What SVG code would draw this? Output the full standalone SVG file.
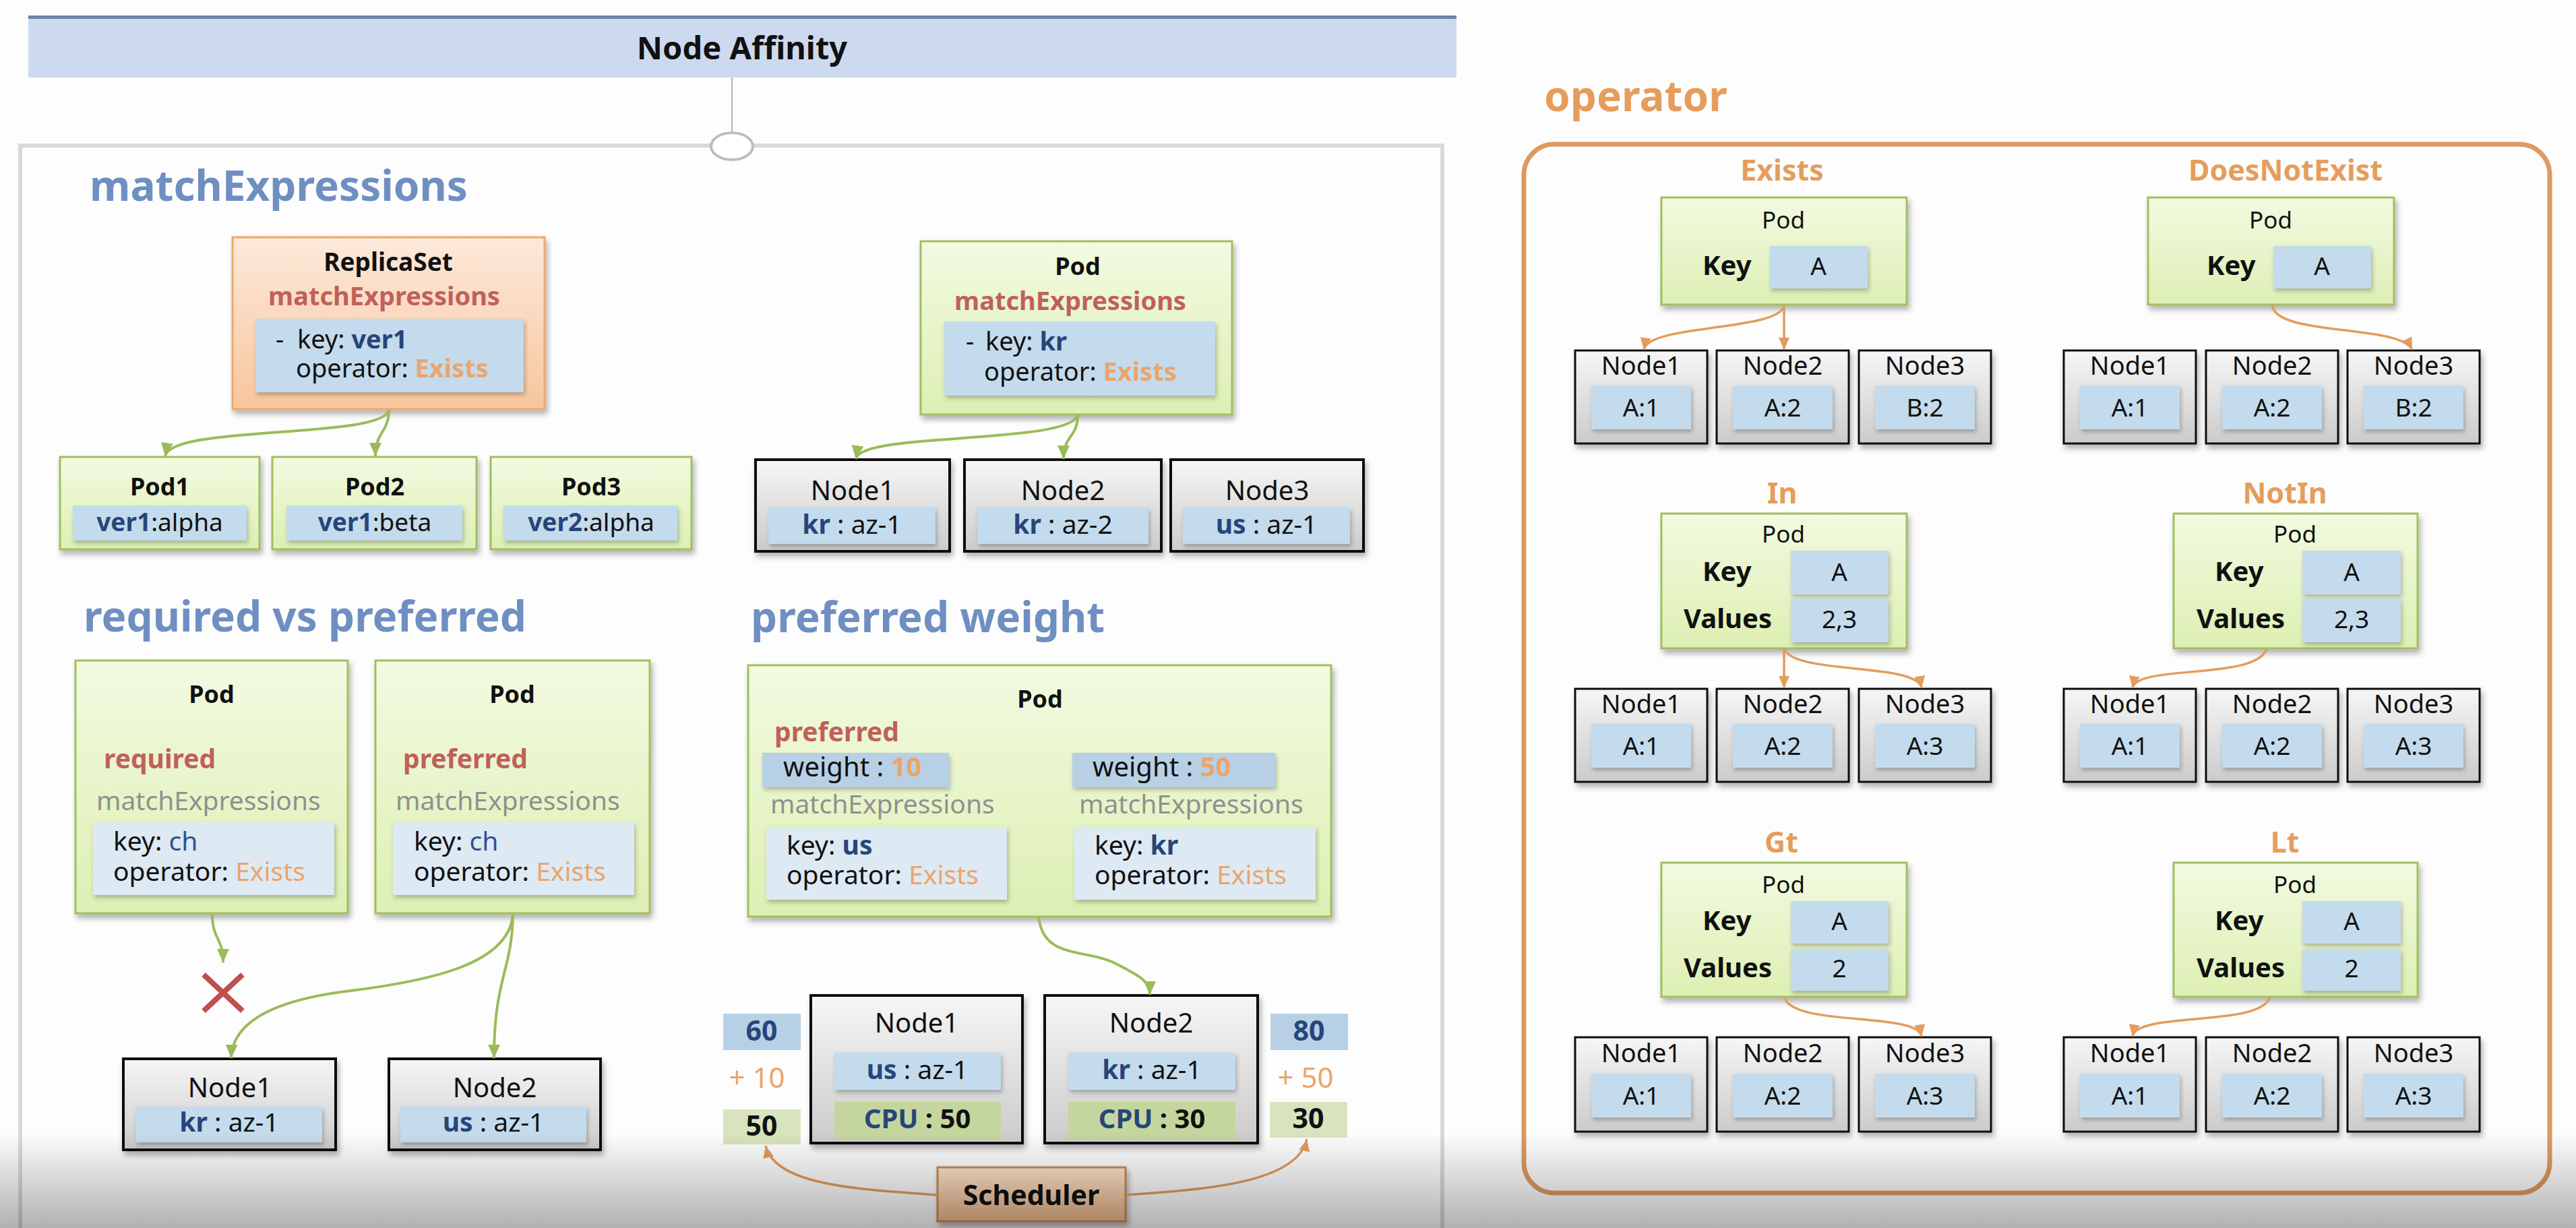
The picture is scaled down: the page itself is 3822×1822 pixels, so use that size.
<svg xmlns="http://www.w3.org/2000/svg" width="3822" height="1822" viewBox="0 0 3822 1822">
<defs>
<linearGradient id="gGreen" x1="0" y1="0" x2="0" y2="1"><stop offset="0" stop-color="#f3fae1"/><stop offset="1" stop-color="#ddefb3"/></linearGradient>
<linearGradient id="gGray" x1="0" y1="0" x2="0" y2="1"><stop offset="0" stop-color="#f6f6f6"/><stop offset="1" stop-color="#cbcbcb"/></linearGradient>
<linearGradient id="gOrange" x1="0" y1="0" x2="0" y2="1"><stop offset="0" stop-color="#fde9da"/><stop offset="1" stop-color="#f7c69c"/></linearGradient>
<linearGradient id="gSched" x1="0" y1="0" x2="0" y2="1"><stop offset="0" stop-color="#fce3cd"/><stop offset="1" stop-color="#f1bb8c"/></linearGradient>
<linearGradient id="fade" x1="0" y1="0" x2="0" y2="1"><stop offset="0" stop-color="#000" stop-opacity="0"/><stop offset="1" stop-color="#000" stop-opacity="0.3"/></linearGradient>
<filter id="sh" x="-10%" y="-10%" width="125%" height="135%"><feDropShadow dx="3" dy="6" stdDeviation="4" flood-color="#000" flood-opacity="0.3"/></filter>
<filter id="sh2" x="-10%" y="-10%" width="125%" height="140%"><feDropShadow dx="2" dy="4" stdDeviation="3" flood-color="#000" flood-opacity="0.25"/></filter>
<marker id="ag" viewBox="0 0 20 20" markerUnits="userSpaceOnUse" markerWidth="20" markerHeight="20" refX="20" refY="10" orient="auto"><path d="M0,1 L20,10 L0,19 z" fill="#9bbb59"/></marker>
<marker id="ao" viewBox="0 0 18 18" markerUnits="userSpaceOnUse" markerWidth="18" markerHeight="18" refX="18" refY="9" orient="auto"><path d="M0,1 L18,9 L0,17 z" fill="#e39c5c"/></marker>
</defs>
<style>
text { font-family: "Noto Sans", "Open Sans", "Liberation Sans", sans-serif; fill: #111; }
.c { text-anchor: middle; }
.b { font-weight: bold; }
.hd { font-size: 62px; font-weight: bold; fill: #6f8fc2; }
.pod { fill: url(#gGreen); stroke: #9fbf5f; stroke-width: 3; filter: url(#sh); }
.node { fill: url(#gGray); stroke: #111; stroke-width: 4; filter: url(#sh); }
.node3 { fill: url(#gGray); stroke: #111; stroke-width: 3; filter: url(#sh); }
.bl { fill: #c3dbec; filter: url(#sh2); }
.pl { fill: #dde9f3; filter: url(#sh2); }
.wb { fill: #b7d0e5; }
.gn { fill: #d8e4bd; }
.cpu { fill: #c4d69d; }
.dk { fill: #27457a; font-weight: bold; }
.dkr { fill: #2f5496; }
.ex { fill: #e9a56d; }
.red { fill: #c0605a; font-weight: bold; }
.gry { fill: #909090; }
.orl { fill: #e59d5c; font-weight: bold; }
.cg { fill: none; stroke: #9bbb59; stroke-width: 4; marker-end: url(#ag); }
.co { fill: none; stroke: #e39c5c; stroke-width: 3.5; marker-end: url(#ao); }
</style>
<rect x="0" y="0" width="3822" height="1822" fill="#fdfdfd"/>

<!-- title -->
<g id="title">
<rect x="42" y="23" width="2119" height="92" fill="#cdd9ef"/>
<rect x="42" y="23" width="2119" height="5" fill="#6b84ad"/>
<text x="1101" y="88" class="c b" font-size="47">Node Affinity</text>
</g>

<!-- left panel frame -->
<g id="leftPanel">
<rect x="30" y="216" width="2110" height="1700" fill="none" stroke="#d9d9d9" stroke-width="6"/>
<line x1="1086" y1="115" x2="1086" y2="197" stroke="#9a9a9a" stroke-width="1.5"/>
<ellipse cx="1086" cy="217" rx="31" ry="20" fill="#fff" stroke="#bdbdbd" stroke-width="4"/>
</g>

<!-- headings -->
<text x="133" y="298" class="hd">matchExpressions</text>
<text x="124" y="937" class="hd">required vs preferred</text>
<text x="1114" y="938" class="hd">preferred weight</text>
<text x="2291" y="165" class="hd" style="fill:#e59d5c">operator</text>

<!-- section 1: ReplicaSet -->
<g id="replicaset">
<rect x="345" y="352" width="463" height="255" fill="url(#gOrange)" stroke="#f0a766" stroke-width="3" filter="url(#sh)"/>
<text x="576" y="402" class="c b" font-size="37">ReplicaSet</text>
<text x="570" y="453" class="c red" font-size="38">matchExpressions</text>
<rect x="379" y="473" width="398" height="109" class="bl"/>
<text font-size="38"><tspan x="409" y="517">-</tspan><tspan x="441" y="517">key: </tspan><tspan class="dk">ver1</tspan><tspan x="439" y="560">operator: </tspan><tspan class="ex b">Exists</tspan></text>
</g>
<g id="pod1">
<rect x="89" y="678" width="296" height="137" class="pod"/>
<text x="237" y="735" class="c b" font-size="36">Pod1</text>
<rect x="108" y="750" width="258" height="52" class="bl"/>
<text x="237" y="788" class="c" font-size="37"><tspan class="dk">ver1</tspan>:alpha</text>
</g>
<g id="pod2">
<rect x="404" y="678" width="303" height="137" class="pod"/>
<text x="556" y="735" class="c b" font-size="36">Pod2</text>
<rect x="425" y="750" width="261" height="52" class="bl"/>
<text x="556" y="788" class="c" font-size="37"><tspan class="dk">ver1</tspan>:beta</text>
</g>
<g id="pod3">
<rect x="728" y="678" width="298" height="137" class="pod"/>
<text x="877" y="735" class="c b" font-size="36">Pod3</text>
<rect x="747" y="750" width="258" height="52" class="bl"/>
<text x="877" y="788" class="c" font-size="37"><tspan class="dk">ver2</tspan>:alpha</text>
</g>

<!-- section 1b: Pod matchExpressions -->
<g id="podME">
<rect x="1366" y="358" width="462" height="257" class="pod"/>
<text x="1599" y="408" class="c b" font-size="36">Pod</text>
<text x="1588" y="460" class="c red" font-size="38">matchExpressions</text>
<rect x="1401" y="477" width="402" height="110" class="bl"/>
<text font-size="38"><tspan x="1433" y="520">-</tspan><tspan x="1462" y="520">key: </tspan><tspan class="dk">kr</tspan><tspan x="1460" y="565">operator: </tspan><tspan class="ex b">Exists</tspan></text>
</g>
<g id="me-node1">
<rect x="1121" y="682" width="288" height="136" class="node"/>
<text x="1265" y="742" class="c" font-size="40">Node1</text>
<rect x="1140" y="753" width="248" height="54" class="bl"/>
<text x="1264" y="792" class="c" font-size="39"><tspan class="dk">kr</tspan> : az-1</text>
</g>
<g id="me-node2">
<rect x="1431" y="682" width="292" height="136" class="node"/>
<text x="1577" y="742" class="c" font-size="40">Node2</text>
<rect x="1450" y="753" width="254" height="54" class="bl"/>
<text x="1577" y="792" class="c" font-size="39"><tspan class="dk">kr</tspan> : az-2</text>
</g>
<g id="me-node3">
<rect x="1737" y="682" width="286" height="136" class="node"/>
<text x="1880" y="742" class="c" font-size="40">Node3</text>
<rect x="1755" y="753" width="248" height="54" class="bl"/>
<text x="1879" y="792" class="c" font-size="39"><tspan class="dk">us</tspan> : az-1</text>
</g>

<!-- section 2: required vs preferred -->
<g id="podRequired">
<rect x="112" y="980" width="404" height="375" class="pod"/>
<text x="314" y="1043" class="c b" font-size="36">Pod</text>
<text x="154" y="1140" class="red" font-size="39">required</text>
<text x="143" y="1202" class="gry" font-size="39">matchExpressions</text>
<rect x="138" y="1220" width="358" height="108" class="pl"/>
<text font-size="39"><tspan x="168" y="1262">key: </tspan><tspan class="dkr">ch</tspan><tspan x="168" y="1307">operator: </tspan><tspan class="ex">Exists</tspan></text>
</g>
<g id="podPreferred">
<rect x="557" y="980" width="407" height="375" class="pod"/>
<text x="760" y="1043" class="c b" font-size="36">Pod</text>
<text x="598" y="1140" class="red" font-size="39">preferred</text>
<text x="587" y="1202" class="gry" font-size="39">matchExpressions</text>
<rect x="583" y="1220" width="358" height="108" class="pl"/>
<text font-size="39"><tspan x="614" y="1262">key: </tspan><tspan class="dkr">ch</tspan><tspan x="614" y="1307">operator: </tspan><tspan class="ex">Exists</tspan></text>
</g>
<g id="rp-x">
<path d="M302,1446 L360,1500 M360,1446 L302,1500" stroke="#c0504d" stroke-width="8" fill="none"/>
</g>
<g id="rp-node1">
<rect x="183" y="1571" width="315" height="135" class="node"/>
<text x="341" y="1628" class="c" font-size="40">Node1</text>
<rect x="202" y="1642" width="276" height="53" class="bl"/>
<text x="340" y="1679" class="c" font-size="39"><tspan class="dk">kr</tspan> : az-1</text>
</g>
<g id="rp-node2">
<rect x="577" y="1571" width="314" height="135" class="node"/>
<text x="734" y="1628" class="c" font-size="40">Node2</text>
<rect x="594" y="1642" width="276" height="53" class="bl"/>
<text x="732" y="1679" class="c" font-size="39"><tspan class="dk">us</tspan> : az-1</text>
</g>

<!-- section 3: preferred weight -->
<g id="podWeight">
<rect x="1110" y="987" width="865" height="373" class="pod"/>
<text x="1543" y="1050" class="c b" font-size="36">Pod</text>
<text x="1149" y="1100" class="red" font-size="39">preferred</text>
<rect x="1131" y="1117" width="277" height="51" class="wb" filter="url(#sh2)"/>
<rect x="1591" y="1117" width="301" height="51" class="wb" filter="url(#sh2)"/>
<rect x="1137" y="1227" width="357" height="108" class="pl"/>
<rect x="1594" y="1227" width="358" height="108" class="pl"/>
<text font-size="39"><tspan x="1162" y="1152" font-size="40">weight : </tspan><tspan class="ex b" font-size="40">10</tspan><tspan x="1143" y="1207" class="gry">matchExpressions</tspan><tspan x="1167" y="1268">key: </tspan><tspan class="dk">us</tspan><tspan x="1167" y="1312">operator: </tspan><tspan class="ex">Exists</tspan></text>
<text font-size="39"><tspan x="1621" y="1152" font-size="40">weight : </tspan><tspan class="ex b" font-size="40">50</tspan><tspan x="1601" y="1207" class="gry">matchExpressions</tspan><tspan x="1624" y="1268">key: </tspan><tspan class="dk">kr</tspan><tspan x="1624" y="1312">operator: </tspan><tspan class="ex">Exists</tspan></text>
</g>
<g id="pw-node1">
<rect x="1203" y="1477" width="314" height="219" class="node"/>
<text x="1360" y="1532" class="c" font-size="40">Node1</text>
<rect x="1238" y="1562" width="247" height="55" class="bl"/>
<text x="1361" y="1601" class="c" font-size="39"><tspan class="dk">us</tspan> : az-1</text>
<rect x="1238" y="1635" width="247" height="55" class="cpu"/>
<text x="1361" y="1674" class="c b" font-size="40"><tspan class="dk">CPU</tspan> : 50</text>
</g>
<g id="pw-node2">
<rect x="1550" y="1477" width="316" height="219" class="node"/>
<text x="1708" y="1532" class="c" font-size="40">Node2</text>
<rect x="1585" y="1562" width="248" height="55" class="bl"/>
<text x="1709" y="1601" class="c" font-size="39"><tspan class="dk">kr</tspan> : az-1</text>
<rect x="1585" y="1635" width="248" height="55" class="cpu"/>
<text x="1709" y="1674" class="c b" font-size="40"><tspan class="dk">CPU</tspan> : 30</text>
</g>
<g id="score-left">
<rect x="1073" y="1504" width="115" height="54" class="wb"/>
<text x="1130" y="1544" class="c dk" font-size="41">60</text>
<text x="1123" y="1614" class="c ex" font-size="42">+ 10</text>
<rect x="1073" y="1646" width="115" height="52" class="gn"/>
<text x="1130" y="1685" class="c b" font-size="41">50</text>
</g>
<g id="score-right">
<rect x="1885" y="1504" width="115" height="54" class="wb"/>
<text x="1942" y="1544" class="c dk" font-size="41">80</text>
<text x="1937" y="1614" class="c ex" font-size="42">+ 50</text>
<rect x="1884" y="1635" width="115" height="53" class="gn"/>
<text x="1941" y="1674" class="c b" font-size="41">30</text>
</g>
<g id="scheduler">
<rect x="1391" y="1732" width="279" height="80" fill="url(#gSched)" stroke="#c98a52" stroke-width="3" filter="url(#sh)"/>
<text x="1530" y="1788" class="c b" font-size="41">Scheduler</text>
</g>

<!-- operator panel -->
<g id="operatorPanel">
<rect x="2261" y="214" width="1522" height="1556" rx="45" fill="none" stroke="#dd9a60" stroke-width="7"/>
</g>

<!-- Exists -->
<g id="op-exists">
<text x="2644" y="268" class="c orl" font-size="43">Exists</text>
<rect x="2465" y="293" width="364" height="159" class="pod"/>
<text x="2646" y="339" class="c" font-size="35">Pod</text>
<text x="2526" y="408" class="b" font-size="40">Key</text>
<rect x="2626" y="365" width="145" height="63" class="bl"/>
<text x="2698" y="408" class="c" font-size="37">A</text>
</g>
<g id="ex-n1"><rect x="2337" y="520" width="196" height="138" class="node3"/><text x="2435" y="556" class="c" font-size="38">Node1</text><rect x="2361" y="572" width="148" height="65" class="bl"/><text x="2435" y="618" class="c" font-size="37">A:1</text></g>
<g id="ex-n2"><rect x="2547" y="520" width="196" height="138" class="node3"/><text x="2645" y="556" class="c" font-size="38">Node2</text><rect x="2571" y="572" width="148" height="65" class="bl"/><text x="2645" y="618" class="c" font-size="37">A:2</text></g>
<g id="ex-n3"><rect x="2758" y="520" width="196" height="138" class="node3"/><text x="2856" y="556" class="c" font-size="38">Node3</text><rect x="2782" y="572" width="148" height="65" class="bl"/><text x="2856" y="618" class="c" font-size="37">B:2</text></g>

<!-- DoesNotExist -->
<g id="op-doesnotexist">
<text x="3391" y="268" class="c orl" font-size="43">DoesNotExist</text>
<rect x="3187" y="293" width="365" height="159" class="pod"/>
<text x="3369" y="339" class="c" font-size="35">Pod</text>
<text x="3274" y="408" class="b" font-size="40">Key</text>
<rect x="3373" y="365" width="145" height="63" class="bl"/>
<text x="3445" y="408" class="c" font-size="37">A</text>
</g>
<g id="dn-n1"><rect x="3062" y="520" width="196" height="138" class="node3"/><text x="3160" y="556" class="c" font-size="38">Node1</text><rect x="3086" y="572" width="148" height="65" class="bl"/><text x="3160" y="618" class="c" font-size="37">A:1</text></g>
<g id="dn-n2"><rect x="3273" y="520" width="196" height="138" class="node3"/><text x="3371" y="556" class="c" font-size="38">Node2</text><rect x="3297" y="572" width="148" height="65" class="bl"/><text x="3371" y="618" class="c" font-size="37">A:2</text></g>
<g id="dn-n3"><rect x="3483" y="520" width="196" height="138" class="node3"/><text x="3581" y="556" class="c" font-size="38">Node3</text><rect x="3507" y="572" width="148" height="65" class="bl"/><text x="3581" y="618" class="c" font-size="37">B:2</text></g>

<!-- In -->
<g id="op-in">
<text x="2644" y="747" class="c orl" font-size="43">In</text>
<rect x="2465" y="762" width="364" height="200" class="pod"/>
<text x="2646" y="805" class="c" font-size="35">Pod</text>
<text x="2526" y="862" class="b" font-size="40">Key</text>
<rect x="2657" y="817" width="145" height="65" class="bl"/>
<text x="2729" y="862" class="c" font-size="37">A</text>
<text x="2498" y="932" class="b" font-size="40">Values</text>
<rect x="2657" y="888" width="145" height="65" class="bl"/>
<text x="2729" y="932" class="c" font-size="37">2,3</text>
</g>
<g id="in-n1"><rect x="2337" y="1022" width="196" height="138" class="node3"/><text x="2435" y="1058" class="c" font-size="38">Node1</text><rect x="2361" y="1074" width="148" height="65" class="bl"/><text x="2435" y="1120" class="c" font-size="37">A:1</text></g>
<g id="in-n2"><rect x="2547" y="1022" width="196" height="138" class="node3"/><text x="2645" y="1058" class="c" font-size="38">Node2</text><rect x="2571" y="1074" width="148" height="65" class="bl"/><text x="2645" y="1120" class="c" font-size="37">A:2</text></g>
<g id="in-n3"><rect x="2758" y="1022" width="196" height="138" class="node3"/><text x="2856" y="1058" class="c" font-size="38">Node3</text><rect x="2782" y="1074" width="148" height="65" class="bl"/><text x="2856" y="1120" class="c" font-size="37">A:3</text></g>

<!-- NotIn -->
<g id="op-notin">
<text x="3390" y="747" class="c orl" font-size="43">NotIn</text>
<rect x="3225" y="762" width="362" height="200" class="pod"/>
<text x="3405" y="805" class="c" font-size="35">Pod</text>
<text x="3286" y="862" class="b" font-size="40">Key</text>
<rect x="3416" y="817" width="146" height="65" class="bl"/>
<text x="3489" y="862" class="c" font-size="37">A</text>
<text x="3259" y="932" class="b" font-size="40">Values</text>
<rect x="3416" y="888" width="146" height="65" class="bl"/>
<text x="3489" y="932" class="c" font-size="37">2,3</text>
</g>
<g id="ni-n1"><rect x="3062" y="1022" width="196" height="138" class="node3"/><text x="3160" y="1058" class="c" font-size="38">Node1</text><rect x="3086" y="1074" width="148" height="65" class="bl"/><text x="3160" y="1120" class="c" font-size="37">A:1</text></g>
<g id="ni-n2"><rect x="3273" y="1022" width="196" height="138" class="node3"/><text x="3371" y="1058" class="c" font-size="38">Node2</text><rect x="3297" y="1074" width="148" height="65" class="bl"/><text x="3371" y="1120" class="c" font-size="37">A:2</text></g>
<g id="ni-n3"><rect x="3483" y="1022" width="196" height="138" class="node3"/><text x="3581" y="1058" class="c" font-size="38">Node3</text><rect x="3507" y="1074" width="148" height="65" class="bl"/><text x="3581" y="1120" class="c" font-size="37">A:3</text></g>

<!-- Gt -->
<g id="op-gt">
<text x="2643" y="1265" class="c orl" font-size="43">Gt</text>
<rect x="2465" y="1280" width="364" height="199" class="pod"/>
<text x="2646" y="1325" class="c" font-size="35">Pod</text>
<text x="2526" y="1380" class="b" font-size="40">Key</text>
<rect x="2657" y="1337" width="145" height="63" class="bl"/>
<text x="2729" y="1380" class="c" font-size="37">A</text>
<text x="2498" y="1450" class="b" font-size="40">Values</text>
<rect x="2657" y="1408" width="145" height="62" class="bl"/>
<text x="2729" y="1450" class="c" font-size="37">2</text>
</g>
<g id="gt-n1"><rect x="2337" y="1539" width="196" height="140" class="node3"/><text x="2435" y="1576" class="c" font-size="38">Node1</text><rect x="2361" y="1593" width="148" height="65" class="bl"/><text x="2435" y="1639" class="c" font-size="37">A:1</text></g>
<g id="gt-n2"><rect x="2547" y="1539" width="196" height="140" class="node3"/><text x="2645" y="1576" class="c" font-size="38">Node2</text><rect x="2571" y="1593" width="148" height="65" class="bl"/><text x="2645" y="1639" class="c" font-size="37">A:2</text></g>
<g id="gt-n3"><rect x="2758" y="1539" width="196" height="140" class="node3"/><text x="2856" y="1576" class="c" font-size="38">Node3</text><rect x="2782" y="1593" width="148" height="65" class="bl"/><text x="2856" y="1639" class="c" font-size="37">A:3</text></g>

<!-- Lt -->
<g id="op-lt">
<text x="3390" y="1265" class="c orl" font-size="43">Lt</text>
<rect x="3225" y="1280" width="362" height="199" class="pod"/>
<text x="3405" y="1325" class="c" font-size="35">Pod</text>
<text x="3286" y="1380" class="b" font-size="40">Key</text>
<rect x="3416" y="1337" width="146" height="63" class="bl"/>
<text x="3489" y="1380" class="c" font-size="37">A</text>
<text x="3259" y="1450" class="b" font-size="40">Values</text>
<rect x="3416" y="1408" width="146" height="62" class="bl"/>
<text x="3489" y="1450" class="c" font-size="37">2</text>
</g>
<g id="lt-n1"><rect x="3062" y="1539" width="196" height="140" class="node3"/><text x="3160" y="1576" class="c" font-size="38">Node1</text><rect x="3086" y="1593" width="148" height="65" class="bl"/><text x="3160" y="1639" class="c" font-size="37">A:1</text></g>
<g id="lt-n2"><rect x="3273" y="1539" width="196" height="140" class="node3"/><text x="3371" y="1576" class="c" font-size="38">Node2</text><rect x="3297" y="1593" width="148" height="65" class="bl"/><text x="3371" y="1639" class="c" font-size="37">A:2</text></g>
<g id="lt-n3"><rect x="3483" y="1539" width="196" height="140" class="node3"/><text x="3581" y="1576" class="c" font-size="38">Node3</text><rect x="3507" y="1593" width="148" height="65" class="bl"/><text x="3581" y="1639" class="c" font-size="37">A:3</text></g>

<!-- connectors -->
<g id="connectors">
<path class="cg" d="M577,608 C570,652 252,630 245,677"/>
<path class="cg" d="M577,608 C577,642 557,640 557,677"/>
<path class="cg" d="M1599,615 C1592,660 1275,640 1270,681"/>
<path class="cg" d="M1599,615 C1599,650 1578,645 1578,681"/>
<path class="cg" d="M315,1357 C315,1395 331,1390 331,1428"/>
<path class="cg" d="M761,1357 C755,1430 640,1455 520,1470 C420,1482 345,1510 343,1570"/>
<path class="cg" d="M761,1357 C760,1440 733,1450 733,1570"/>
<path class="cg" d="M1541,1360 C1548,1425 1610,1405 1660,1432 C1690,1448 1706,1455 1706,1476"/>
<path class="co" d="M1391,1773 C1280,1765 1150,1760 1136,1700"/>
<path class="co" d="M1670,1773 C1790,1765 1925,1755 1939,1690"/>
<path class="co" d="M2647,452 C2645,492 2445,480 2439,519"/>
<path class="co" d="M2647,452 L2647,519"/>
<path class="co" d="M3371,452 C3375,500 3560,480 3579,519"/>
<path class="co" d="M2647,962 L2647,1021"/>
<path class="co" d="M2647,962 C2660,1002 2845,982 2851,1021"/>
<path class="co" d="M3363,962 C3350,1010 3170,985 3164,1021"/>
<path class="co" d="M2647,1479 C2660,1525 2845,1500 2851,1538"/>
<path class="co" d="M3368,1479 C3355,1525 3170,1500 3164,1538"/>
</g>

<rect x="0" y="1680" width="3822" height="142" fill="url(#fade)"/>
</svg>
